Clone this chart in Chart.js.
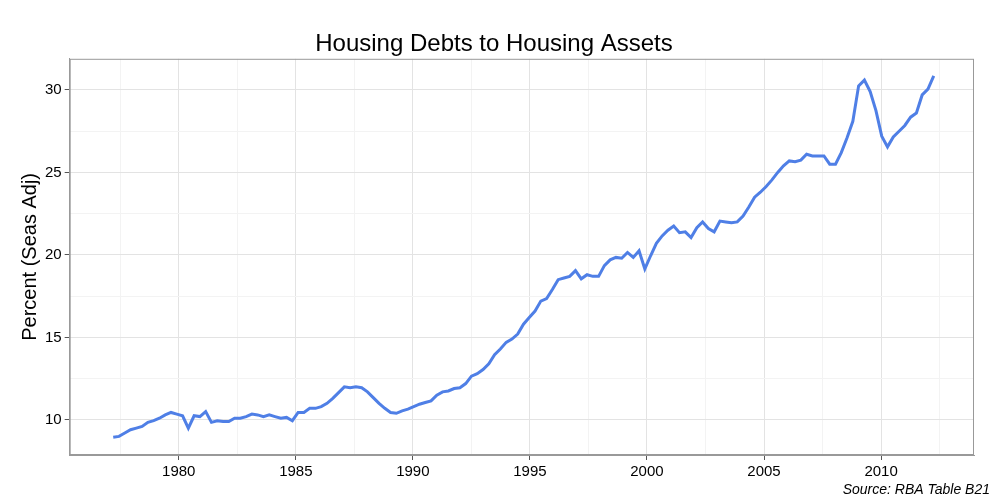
<!DOCTYPE html>
<html>
<head>
<script src="https://cdn.jsdelivr.net/npm/chart.js@4"></script>
<style>body{margin:0;background:#fff}#wrap{width:1000px;height:500px}</style>
</head>
<body>
<div id="wrap"><canvas id="c"></canvas></div>
<script>
const firstYear = 1977.2;
const lastYear = 2012.25;
const debtRatio = [
  8.95, 9.0, 9.2,
  9.4, 9.5, 9.6, 9.85,
  9.95, 10.1, 10.3, 10.45,
  10.35, 10.25, 9.5, 10.25, 10.2,
  10.5, 9.85, 9.95, 9.9,
  9.9, 10.1, 10.1, 10.2,
  10.35, 10.3, 10.2, 10.3,
  10.2, 10.1, 10.15, 9.95,
  10.45, 10.45, 10.7, 10.7,
  10.8, 11.0, 11.3, 11.65,
  12.0, 11.95, 12.0, 11.95,
  11.7, 11.35, 11.0, 10.7,
  10.45, 10.4, 10.55, 10.65,
  10.8, 10.95, 11.05, 11.15,
  11.5, 11.7, 11.75, 11.9,
  11.95, 12.2, 12.65, 12.8,
  13.05, 13.4, 13.95, 14.3,
  14.7, 14.9, 15.2, 15.8,
  16.2, 16.6, 17.2, 17.35,
  17.9, 18.5, 18.6, 18.7,
  19.05, 18.55, 18.8, 18.7,
  18.7, 19.35, 19.7, 19.85,
  19.8, 20.15, 19.85, 20.25,
  19.15, 19.95, 20.7, 21.15,
  21.5, 21.75, 21.35, 21.4,
  21.05, 21.65, 22.0, 21.6,
  21.4, 22.05, 22.0, 21.95,
  22.0, 22.35, 22.9, 23.5,
  23.8, 24.15, 24.55, 25.0,
  25.4, 25.7, 25.65, 25.75,
  26.1, 26.0, 26.0, 26.0,
  25.5, 25.5, 26.2, 27.1,
  28.1, 30.25, 30.6, 29.9,
  28.75, 27.2, 26.55, 27.15,
  27.5, 27.85, 28.35, 28.6,
  29.7, 30.05, 30.85
];
const xTicks = [1980, 1985, 1990, 1995, 2000, 2005, 2010];
const yTicks = [10, 15, 20, 25, 30];

const step = (lastYear - firstYear) / (debtRatio.length - 1);
const points = debtRatio.map((v, i) => ({ x: firstYear + i * step, y: v }));

const isMajor = (v, list) => list.some(t => Math.abs(t - v) < 1e-6);

const caption = {
  id: 'caption',
  afterDraw(c) {
    const ctx = c.ctx;
    ctx.save();
    ctx.font = 'italic 14px "Liberation Sans", Arial, sans-serif';
    ctx.fillStyle = '#000';
    ctx.textAlign = 'right';
    ctx.textBaseline = 'bottom';
    ctx.fillText('Source: RBA Table B21', 990, 497);
    ctx.restore();
  }
};

new Chart(document.getElementById('c'), {
  type: 'line',
  data: {
    datasets: [{
      data: points,
      borderColor: '#4f7fe6',
      borderWidth: 3,
      pointRadius: 0,
      tension: 0
    }]
  },
  options: {
    responsive: true,
    maintainAspectRatio: false,
    animation: false,
    layout: { padding: { left: 14, right: 26, top: 4, bottom: 16 } },
    plugins: {
      legend: { display: false },
      tooltip: { enabled: false },
      title: {
        display: true,
        text: 'Housing Debts to Housing Assets',
        color: '#000',
        font: { family: '"Liberation Sans", Arial, sans-serif', size: 24, weight: 'normal' },
        padding: { top: 26, bottom: 0 }
      }
    },
    scales: {
      x: {
        type: 'linear',
        min: 1975.34,
        max: 2013.97,
        afterBuildTicks: ax => {
          const t = [];
          for (let v = 1977.5; v <= 2012.5; v += 2.5) t.push({ value: v });
          ax.ticks = t;
        },
        grid: {
          color: ctx => isMajor(ctx.tick.value, xTicks) ? '#e3e3e3' : '#f3f3f3',
          lineWidth: 1,
          drawTicks: true,
          tickLength: 5,
          tickColor: ctx => isMajor(ctx.tick.value, xTicks) ? '#555' : 'rgba(0,0,0,0)'
        },
        border: { color: '#999', display: true },
        ticks: {
          autoSkip: false,
          maxRotation: 0,
          color: '#000',
          font: { family: '"Liberation Sans", Arial, sans-serif', size: 15 },
          callback: v => isMajor(v, xTicks) ? String(v) : ''
        }
      },
      y: {
        min: 7.87,
        max: 31.89,
        afterBuildTicks: ax => {
          const t = [];
          for (let v = 7.5; v <= 32; v += 2.5) if (v >= 7.87 && v <= 31.89) t.push({ value: v });
          ax.ticks = t;
        },
        grid: {
          color: ctx => isMajor(ctx.tick.value, yTicks) ? '#e3e3e3' : '#f3f3f3',
          tickLength: 5,
          tickColor: ctx => isMajor(ctx.tick.value, yTicks) ? '#555' : 'rgba(0,0,0,0)'
        },
        border: { color: '#999' },
        title: {
          display: true,
          text: 'Percent (Seas Adj)',
          color: '#000',
          font: { family: '"Liberation Sans", Arial, sans-serif', size: 20 },
          padding: { bottom: 0 }
        },
        ticks: {
          color: '#000',
          font: { family: '"Liberation Sans", Arial, sans-serif', size: 15 },
          callback: v => isMajor(v, yTicks) ? String(v) : ''
        }
      }
    }
  },
  plugins: [caption, {
    id: 'frame',
    afterDraw(c) {
      const a = c.chartArea, ctx = c.ctx;
      ctx.save();
      ctx.strokeStyle = '#999';
      ctx.lineWidth = 1;
      ctx.strokeRect(a.left + 0.5, a.top + 0.5, a.right - a.left - 1, a.bottom - a.top - 1);
      ctx.restore();
    }
  }]
});
</script>
</body>
</html>
